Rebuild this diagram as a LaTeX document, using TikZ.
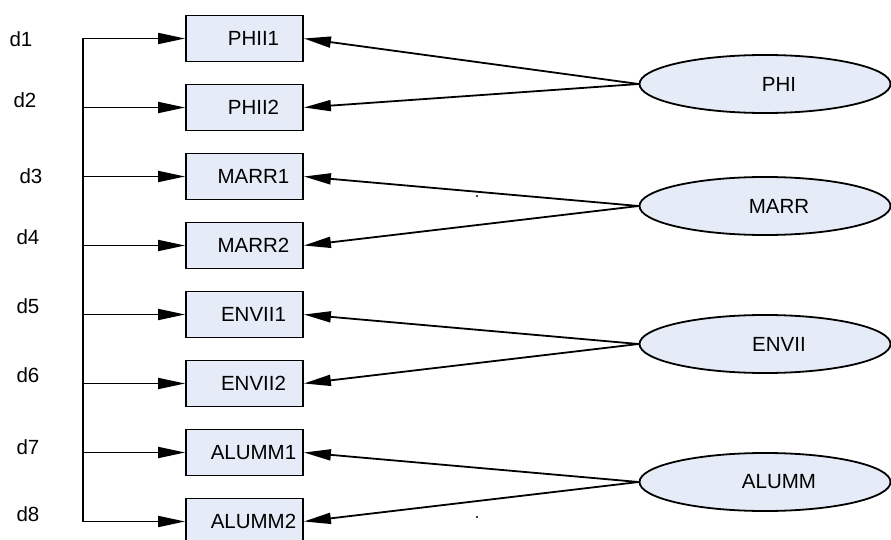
\documentclass[tikz,border=0pt]{standalone}
\usepackage{fontspec}
\setmainfont{Liberation Sans}
\usepackage{tikz}
\usetikzlibrary{arrows.meta}
\usetikzlibrary{shapes.geometric}
\definecolor{boxfill}{HTML}{E6ECF7}
\tikzset{
item box/.style = {rectangle, draw = black, fill = boxfill, minimum width = 117pt, minimum height = 46pt, line width = 1.8pt},
factor/.style = {ellipse, draw = black, fill = boxfill, minimum width = 251pt, minimum height = 58pt, line width = 1.8pt},
feed/.style = {draw = black, line width = 1.8pt, -{Triangle[length = 27pt, width = 11pt]}},
bus/.style = {draw = black, line width = 1.8pt},
}
\begin{document}
\begin{tikzpicture}[x = 1pt, y = -1pt, every node/.style = {font = \fontsize{20.5}{24}\selectfont}]
    \path[fill = white, use as bounding box] (0, 0) rectangle (891, 540);
    % indicators
    \node (d1) at (21, 39) {d1};
    \node (d2) at (25, 100) {d2};
    \node (d3) at (31, 176) {d3};
    \node (d4) at (28, 237) {d4};
    \node (d5) at (28, 306) {d5};
    \node (d6) at (28, 375) {d6};
    \node (d7) at (28, 447) {d7};
    \node (d8) at (28, 514) {d8};
    \coordinate (bus1) at (83, 38.5);
    \coordinate (bus2) at (83, 107.5);
    \coordinate (bus3) at (83, 176.5);
    \coordinate (bus4) at (83, 245.5);
    \coordinate (bus5) at (83, 314.5);
    \coordinate (bus6) at (83, 383.5);
    \coordinate (bus7) at (83, 452.5);
    \coordinate (bus8) at (83, 521.5);
    % items
    \node[item box, label = {[xshift = 9pt]center:PHII1}] (phii1) at (244.5, 38.5) {};
    \node[item box, label = {[xshift = 9pt]center:PHII2}] (phii2) at (244.5, 107.5) {};
    \node[item box, label = {[xshift = 9pt]center:MARR1}] (marr1) at (244.5, 176.5) {};
    \node[item box, label = {[xshift = 9pt]center:MARR2}] (marr2) at (244.5, 245.5) {};
    \node[item box, label = {[xshift = 9pt]center:ENVII1}] (envii1) at (244.5, 314.5) {};
    \node[item box, label = {[xshift = 9pt]center:ENVII2}] (envii2) at (244.5, 383.5) {};
    \node[item box, label = {[xshift = 9pt]center:ALUMM1}] (alumm1) at (244.5, 452.5) {};
    \node[item box, label = {[xshift = 9pt]center:ALUMM2}] (alumm2) at (244.5, 521.5) {};
    % factors
    \node[factor, label = {[xshift = 14pt]center:PHI}] (phi) at (765, 84) {};
    \node[factor, label = {[xshift = 14pt]center:MARR}] (marr) at (765, 206) {};
    \node[factor, label = {[xshift = 14pt]center:ENVII}] (envii) at (765, 344) {};
    \node[factor, label = {[xshift = 14pt]center:ALUMM}] (alumm) at (765, 482) {};
    % bus on the left
    \draw[bus] (bus1) -- (bus8);
    \draw[feed] (bus1) -- (phii1);
    \draw[feed] (bus2) -- (phii2);
    \draw[feed] (bus3) -- (marr1);
    \draw[feed] (bus4) -- (marr2);
    \draw[feed] (bus5) -- (envii1);
    \draw[feed] (bus6) -- (envii2);
    \draw[feed] (bus7) -- (alumm1);
    \draw[feed] (bus8) -- (alumm2);
    % loadings
    \draw[feed] (phi.west) -- (phii1.east);
    \draw[feed] (phi.west) -- (phii2.east);
    \draw[feed] (marr.west) -- (marr1.east);
    \draw[feed] (marr.west) -- (marr2.east);
    \draw[feed] (envii.west) -- (envii1.east);
    \draw[feed] (envii.west) -- (envii2.east);
    \draw[feed] (alumm.west) -- (alumm1.east);
    \draw[feed] (alumm.west) -- (alumm2.east);
    \fill (477, 196) circle (1.2pt);
    \fill (477, 517) circle (1.2pt);
\end{tikzpicture}
\end{document}
